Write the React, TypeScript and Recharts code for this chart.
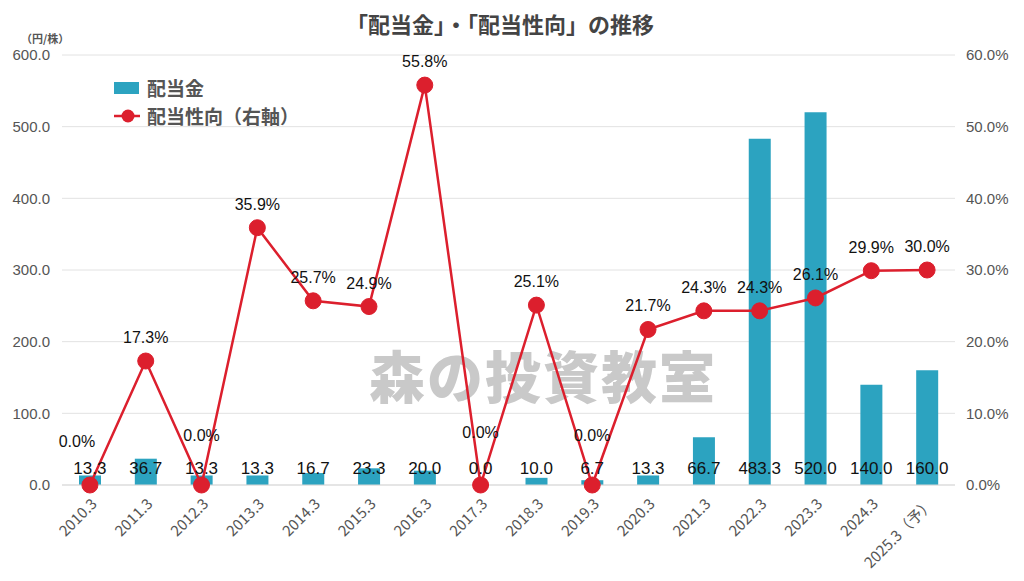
import React from 'react';
import {
  ComposedChart,
  Bar,
  Line,
  XAxis,
  YAxis,
  CartesianGrid,
  LabelList
} from 'recharts';

const years = [
  '2010.3', '2011.3', '2012.3', '2013.3', '2014.3', '2015.3', '2016.3', '2017.3',
  '2018.3', '2019.3', '2020.3', '2021.3', '2022.3', '2023.3', '2024.3', '2025.3（予）'
];
const dividend = [13.3, 36.7, 13.3, 13.3, 16.7, 23.3, 20.0, 0.0, 10.0, 6.7, 13.3, 66.7, 483.3, 520.0, 140.0, 160.0];
const payoutRatio = [0.0, 17.3, 0.0, 35.9, 25.7, 24.9, 55.8, 0.0, 25.1, 0.0, 21.7, 24.3, 24.3, 26.1, 29.9, 30.0];
const leftTicks = [0, 100, 200, 300, 400, 500, 600];
const rightTicks = [0, 10, 20, 30, 40, 50, 60];

const data = years.map((y, i) => ({ year: y, dividend: dividend[i], ratio: payoutRatio[i] }));

const BAR = '#2ca3c0';
const RED = '#dc1f2d';
const NUM_FONT = '"Liberation Sans", Arial, sans-serif';
const JP_FONT = '"Noto Sans CJK JP", "Liberation Sans", sans-serif';

const XTick = (props: any) => {
  const { x, y, payload } = props;
  return (
    <g transform={`translate(${x + 5},${y + 9})`}>
      <text
        transform="rotate(-45)"
        textAnchor="end"
        dominantBaseline="middle"
        fontSize={15}
        fill="#555"
        fontFamily={JP_FONT}
      >
        {payload.value}
      </text>
    </g>
  );
};

// zero-percent labels sit higher so they clear the bar labels
const zeroLift: Record<number, number> = { 0: -38, 7: -47 };

const RatioLabel = (props: any) => {
  const { x, y, value, index } = props;
  const dy = value === 0 ? (zeroLift[index] ?? -44) : -18;
  const dx = index === 0 ? -13 : 0;
  return (
    <text
      x={x + dx}
      y={y + dy}
      textAnchor="middle"
      fontSize={16}
      fill="#111"
      fontFamily={NUM_FONT}
    >
      {value.toFixed(1)}%
    </text>
  );
};

// dividend labels all sit just above the baseline
const BaseLabel = (props: any) => {
  const { x, y, value } = props;
  return (
    <text
      x={x}
      y={y - 11}
      textAnchor="middle"
      fontSize={17}
      fill="#111"
      fontFamily={NUM_FONT}
    >
      {Number(value).toFixed(1)}
    </text>
  );
};

export default function App() {
  return (
    <div style={{ position: 'absolute', left: 0, top: 0, width: 1024, height: 581, background: '#fff', overflow: 'hidden' }}>
      <div
        style={{
          position: 'absolute', left: 0, width: 1000, top: 7, textAlign: 'center',
          fontFamily: JP_FONT, fontWeight: 700, fontSize: 22, lineHeight: '32px', color: '#444'
        }}
      >
        「配当金」・「配当性向」の推移
      </div>
      <div style={{ position: 'absolute', left: 21, top: 30, fontFamily: JP_FONT, fontSize: 11, fontWeight: 700, color: '#555' }}>
        （円/株）
      </div>
      <div
        style={{
          position: 'absolute', left: 369, top: 334, fontFamily: JP_FONT, fontWeight: 900,
          fontSize: 56, lineHeight: '80px', color: '#c9c9c9', letterSpacing: 2
        }}
      >
        森の投資教室
      </div>
      <div style={{ position: 'absolute', left: 0, top: 0 }}>
        <ComposedChart
          width={1024}
          height={581}
          data={data}
          margin={{ top: 55, right: 0, bottom: 0, left: 0 }}
        >
          <CartesianGrid vertical={false} stroke="#e2e2e2" yAxisId="left" />
          <XAxis
            dataKey="year"
            height={96}
            tick={<XTick />}
            tickLine={false}
            axisLine={{ stroke: '#d9d9d9' }}
            interval={0}
          />
          <YAxis
            yAxisId="left"
            width={62}
            domain={[0, 600]}
            ticks={leftTicks}
            tickFormatter={(v: number) => v.toFixed(1)}
            tick={{ fill: '#555', fontSize: 15, fontFamily: NUM_FONT }}
            tickLine={false}
            axisLine={false}
            tickMargin={6}
          />
          <YAxis
            yAxisId="right"
            orientation="right"
            width={69}
            domain={[0, 60]}
            ticks={rightTicks}
            tickFormatter={(v: number) => v.toFixed(1) + '%'}
            tick={{ fill: '#555', fontSize: 15, fontFamily: NUM_FONT }}
            tickLine={false}
            axisLine={false}
            tickMargin={5}
          />
          <Bar yAxisId="left" dataKey="dividend" fill={BAR} barSize={22} isAnimationActive={false} />
          <Line
            yAxisId="left"
            dataKey={() => 0}
            stroke="none"
            dot={false}
            activeDot={false}
            legendType="none"
            isAnimationActive={false}
          >
            <LabelList dataKey="dividend" content={<BaseLabel />} />
          </Line>
          <Line
            yAxisId="right"
            dataKey="ratio"
            stroke={RED}
            strokeWidth={2.5}
            dot={{ r: 8, fill: RED, stroke: RED, strokeWidth: 1 }}
            activeDot={false}
            isAnimationActive={false}
          >
            <LabelList dataKey="ratio" content={<RatioLabel />} />
          </Line>
        </ComposedChart>
      </div>
      <div style={{ position: 'absolute', left: 114, top: 74, fontFamily: JP_FONT, fontWeight: 700, fontSize: 19, color: '#555' }}>
        <div style={{ display: 'flex', alignItems: 'center', height: 27 }}>
          <span style={{ display: 'inline-block', width: 25, height: 12, background: BAR, marginRight: 8 }} />
          配当金
        </div>
        <div style={{ display: 'flex', alignItems: 'center', height: 27, marginTop: 1 }}>
          <svg width={26} height={16} style={{ marginRight: 7 }}>
            <line x1={0} y1={8} x2={26} y2={8} stroke={RED} strokeWidth={2.5} />
            <circle cx={14} cy={8} r={6.5} fill={RED} />
          </svg>
          配当性向（右軸）
        </div>
      </div>
    </div>
  );
}
